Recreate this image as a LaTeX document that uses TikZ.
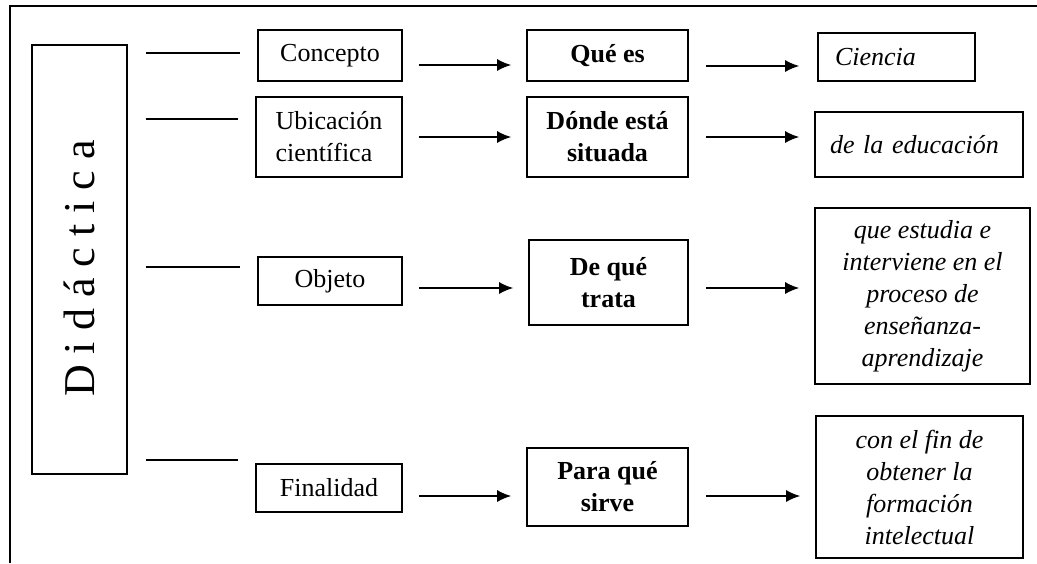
\documentclass[tikz,border=0pt]{standalone}
\usepackage{fontspec}
\setmainfont{Liberation Serif}
\usetikzlibrary{positioning, arrows.meta}

\begin{document}
\begin{tikzpicture}[x=0.5pt, y=-0.5pt, >={Latex[length=7pt,width=6pt]}, line width=0.8pt]
        \tikzset{box/.style={draw, inner sep=3pt, align=center, font=\fontsize{13}{16}\selectfont}}
        \tikzset{ask/.style={box, font=\fontsize{13}{16}\selectfont\bfseries}}
        \tikzset{answer/.style={box, font=\fontsize{13}{16}\selectfont\itshape}}
        \tikzset{link/.style={shorten <=9pt, shorten >=8.5pt}}

        \useasboundingbox (0,0) rectangle (1037,563);
        \draw (10,563) -- (10,6) -- (1037,6);

        \node[draw, minimum width=47.5pt, minimum height=214.5pt] (didactica) at (79.5,259.5)
            {\rotatebox{90}{\fontsize{22}{26}\selectfont D i d á c t i c a\hspace*{9pt}}};

        % column 1
        \node[box, minimum width=72pt, minimum height=25.5pt] (concepto) at (330,55.5) {Concepto};
        \node[box, align=left, minimum width=73pt, minimum height=40pt] (ubicacion) at (329,137) {Ubicación\\científica};
        \node[box, minimum width=72pt, minimum height=24pt] (objeto) at (330,281) {Objeto};
        \node[box, minimum width=73pt, minimum height=24pt] (finalidad) at (329,488) {Finalidad};

        % column 2
        \node[ask, minimum width=80.5pt, minimum height=25.5pt] (quees) at (607.5,55.5) {Qué es};
        \node[ask, minimum width=80.5pt, minimum height=40pt] (donde) at (607.5,137) {Dónde está\\situada};
        \node[ask, minimum width=79.5pt, minimum height=42.5pt] (dequetrata) at (608.5,282.5) {De qué\\trata};
        \node[ask, minimum width=80.5pt, minimum height=39pt] (paraque) at (607.5,487) {Para qué\\sirve};

        % column 3
        \node[answer, inner xsep=8.5pt, text width=61.5pt, align=left, minimum height=24pt] (ciencia) at (896.5,57) {Ciencia};
        \node[answer, inner xsep=7.5pt, text width=89pt, align=left, minimum height=32.5pt] (educacion) at (919,144.5) {de la educación};
        \node[answer, minimum width=107.5pt, minimum height=88pt] (estudia) at (922.5,296)
            {que estudia e\\interviene en el\\proceso de\\enseñanza-\\aprendizaje};
        \node[answer, minimum width=103.5pt, minimum height=71pt] (fin) at (919.5,487)
            {con el fin de\\obtener la\\formación\\intelectual};

        % lines from Didactica
        \draw[link] ([yshift=1.25pt]concepto.west -| didactica.east) -- ([yshift=1.25pt]concepto.west);
        \draw[link] ([yshift=9pt]ubicacion.west -| didactica.east) -- ([yshift=9pt]ubicacion.west);
        \draw[link] ([yshift=7pt]objeto.west -| didactica.east) -- ([yshift=7pt]objeto.west);
        \draw[link] ([yshift=14pt]finalidad.west -| didactica.east) -- ([yshift=14pt]finalidad.west);

        % arrows
        \draw[->, shorten <=8pt, shorten >=7.5pt] ([yshift=-4.75pt]concepto.east) -- ([yshift=-4.75pt]concepto.east -| quees.west);
        \draw[->, shorten <=8pt, shorten >=7.5pt] (ubicacion) -- (donde);
        \draw[->, shorten <=8pt, shorten >=7.5pt] ([yshift=-3.5pt]objeto.east) -- ([yshift=-3.5pt]objeto.east -| dequetrata.west);
        \draw[->, shorten <=8pt, shorten >=7.5pt] ([yshift=-4pt]finalidad.east) -- ([yshift=-4pt]finalidad.east -| paraque.west);

        \draw[->, shorten <=8.5pt, shorten >=9pt] ([yshift=-5.25pt]quees.east) -- ([yshift=-5.25pt]quees.east -| ciencia.west);
        \draw[->, shorten <=8.5pt, shorten >=7.5pt] (donde.east) -- (donde.east -| educacion.west);
        \draw[->, shorten <=8.5pt, shorten >=7.5pt] ([yshift=-2.75pt]dequetrata.east) -- ([yshift=-2.75pt]dequetrata.east -| estudia.west);
        \draw[->, shorten <=8.5pt, shorten >=7.5pt] ([yshift=-4.5pt]paraque.east) -- ([yshift=-4.5pt]paraque.east -| fin.west);
    \end{tikzpicture}
\end{document}
